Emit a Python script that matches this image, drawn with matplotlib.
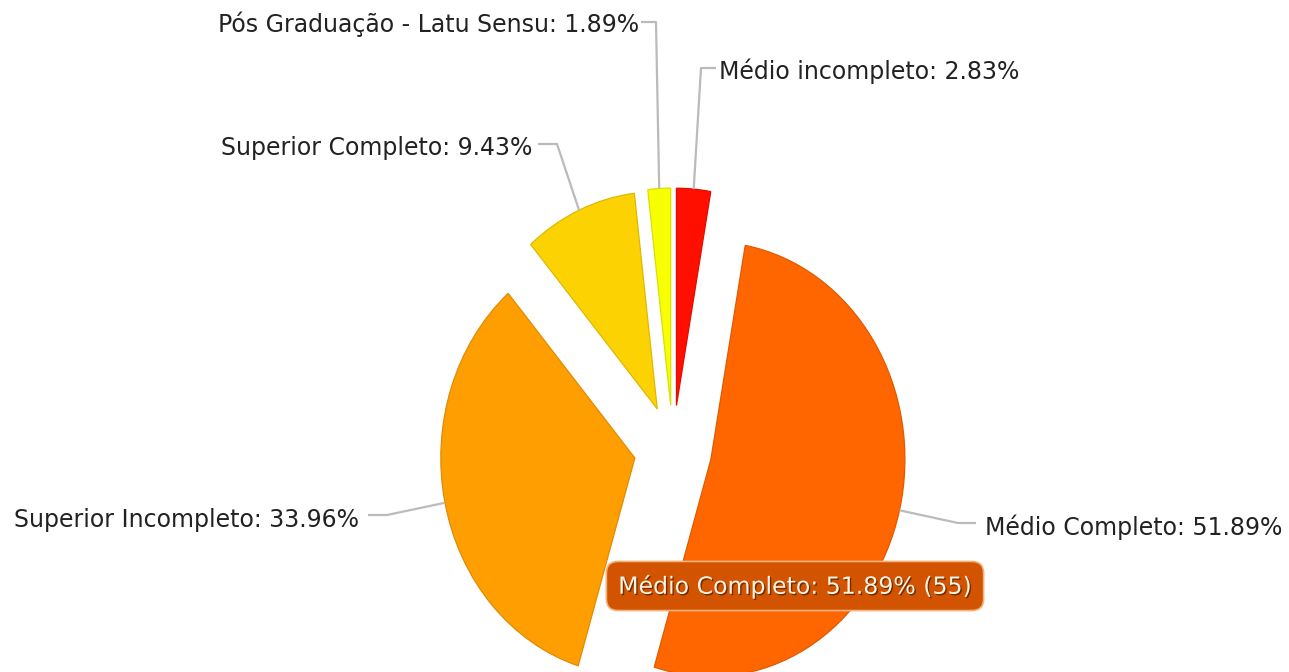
import matplotlib
matplotlib.use('Agg')
import matplotlib.pyplot as plt
import matplotlib.colors as mcolors
from matplotlib import patheffects
import numpy as np

# data
labels = ['Médio incompleto', 'Médio Completo', 'Superior Incompleto',
          'Superior Completo', 'Pós Graduação - Latu Sensu']
counts = [3, 55, 36, 10, 2]
colors = ['#FF0F00', '#FF6600', '#FF9E01', '#FCD202', '#F8FF01']
highlight = 1  # slice shown in the tooltip

pct = np.array(counts) / sum(counts) * 100

W, H = 1289, 672
cx, cy = 673, 449      # pie centre in pixels
sy = 1.12              # pie is a bit taller than wide
R = 194                # radius (px, horizontal)
pull = 39              # pull-out distance of every slice


def pix(x, y):
    # pixel position -> data coords of the pie axes
    return x - cx, (cy - y) / sy


def darker(c, f=0.88):
    r, g, b = mcolors.to_rgb(c)
    return (r * f, g * f, b * f)


fig = plt.figure(figsize=(W / 100, H / 100), dpi=100)
ax = fig.add_axes([0, 0, 1, 1])

wedges, _ = ax.pie(counts, colors=colors, startangle=90, counterclock=False,
                   explode=[pull] * len(counts), radius=R)
for w, c in zip(wedges, colors):
    w.set_edgecolor(darker(c))
    w.set_linewidth(0.9)

ax.set_aspect('auto')
ax.set_xlim(-cx, W - cx)
ax.set_ylim(-(H - cy) / sy, cy / sy)
ax.axis('off')

# label layout (pixels): text x, text y, alignment, elbow points
label_pos = [(719, 71, 'left'), (985, 527, 'left'), (359, 520, 'right'),
             (532, 148, 'right'), (639, 24, 'right')]
elbows = [[(701, 68), (716, 68)], [(958, 523), (976, 523)],
          [(387, 515), (368, 515)], [(557, 144), (538, 144)],
          [(656, 22), (641, 22)]]

for i, w in enumerate(wedges):
    mid = np.deg2rad((w.theta1 + w.theta2) / 2)
    ax_, ay_ = w.center
    x0 = ax_ + w.r * np.cos(mid)
    y0 = ay_ + w.r * np.sin(mid)
    p1 = pix(*elbows[i][0])
    p2 = pix(*elbows[i][1])
    ax.plot([x0, p1[0], p2[0]], [y0, p1[1], p2[1]], color='#BBBBBB', lw=1.6,
            solid_capstyle='butt', zorder=1)
    tx, ty, ha = label_pos[i]
    ax.text(*pix(tx, ty), f'{labels[i]}: {pct[i]:.2f}%', ha=ha, va='center',
            fontsize=17, color='#222222')

# tooltip
tip = ax.text(*pix(795, 586),
              f'{labels[highlight]}: {pct[highlight]:.2f}% ({counts[highlight]})',
              ha='center', va='center', fontsize=17, color='#FFF4E4', zorder=5,
              bbox=dict(boxstyle='round,pad=0.5,rounding_size=0.5',
                        fc='#D25400', ec='#F2B27A', lw=1.2))
tip.set_path_effects([patheffects.withSimplePatchShadow(offset=(1, -1),
                      shadow_rgbFace='#5A2400', alpha=0.8)])

fig.savefig('out.png', dpi=100)
